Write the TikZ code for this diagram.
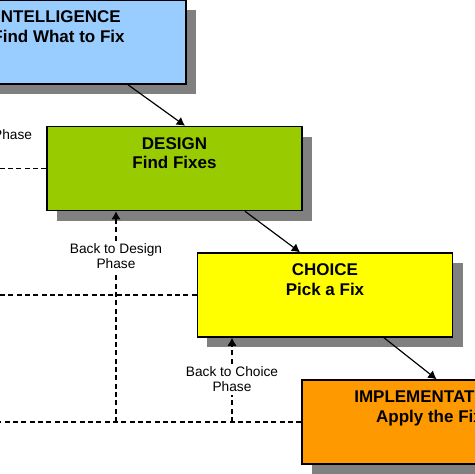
\documentclass[tikz,border=0pt]{standalone}
\usepackage{fontspec}
\setmainfont{Liberation Sans}
\usetikzlibrary{shapes,arrows.meta,shadows}

\definecolor{intelblue}{HTML}{99CCFF}
\definecolor{designgreen}{HTML}{99CC00}
\definecolor{choiceyellow}{HTML}{FFFF00}
\definecolor{implorange}{HTML}{FF9900}

\begin{document}
\begin{tikzpicture}[
    x=0.03cm,
    y=-0.03cm,
    thick
]

% =========================
% Styles
% =========================
\tikzstyle{phase} = [
    rectangle, draw,
    line width=1.3pt,
    minimum width=7.65cm,
    minimum height=2.52cm,
    inner sep=0pt,
    drop shadow={shadow xshift=0.3cm, shadow yshift=-0.3cm,
                 fill=black!50, opacity=1}
]

\tikzstyle{title} = [
    anchor=north,
    align=center,
    inner sep=0pt,
    font=\bfseries\fontsize{14.5}{17}\selectfont
]

\tikzstyle{back} = [
    align=center,
    inner sep=2.5pt,
    font=\fontsize{11.7}{12.8}\selectfont
]

\tikzstyle{line} = [draw, -{Latex[length=7pt,width=8pt]}, line width=1pt]
\tikzstyle{loop} = [draw, dash pattern=on 0.15cm off 0.1cm, line width=1pt]

\useasboundingbox (0,0) rectangle (474,474);

% =========================
% Phases (FIXED POSITIONS)
% =========================
\node[phase, fill=intelblue] (intel) at (58.5,42) {};
\node[title] (intel-text) at ([yshift=-0.33cm]intel.north)
    {INTELLIGENCE\\Find What to Fix};

\node[phase, fill=designgreen] (design) at (174.5,168.5) {};
\node[title] (design-text) at ([yshift=-0.33cm]design.north)
    {DESIGN\\Find Fixes};

\node[phase, fill=choiceyellow] (choice) at (325,295) {};
\node[title] (choice-text) at ([yshift=-0.33cm]choice.north)
    {CHOICE\\Pick a Fix};

\node[phase, fill=implorange] (impl) at (429.5,422) {};
\node[title] (impl-text) at ([yshift=-0.33cm]impl.north)
    {IMPLEMENTATION\\Apply the Fix};

% =========================
% Feedback labels
% =========================
\node[back] (back-intel) at (-24,128.5) {Back to\\Intelligence Phase};
\node[back] (back-design) at (116,256.5) {Back to Design\\Phase};
\node[back] (back-choice) at (232,379.5) {Back to Choice\\Phase};

% =========================
% Forward connections
% =========================
\path[line] ([xshift=2.085cm]intel.south) -- ([xshift=0.315cm]design.north);
\path[line] ([xshift=2.115cm]design.south) -- ([xshift=-0.75cm]choice.north);
\path[line] ([xshift=1.77cm]choice.south) -- ([xshift=0.21cm]impl.north);

% =========================
% Feedback loops
% =========================
\coordinate (intel-foot) at (back-intel.south |- impl.west);
\path[loop] (impl.west) -- (intel-foot) -- (back-intel.south);
\path[loop] (choice.west) -- (choice.west -| intel-foot);
\path[loop] (design.west) -- (design.west -| intel-foot);
\path[loop, -{Latex[length=7pt,width=8pt]}] (back-intel.north) -- (back-intel.north |- intel.south);

\path[loop] (back-design.south |- impl.west) -- (back-design.south);
\path[loop, -{Latex[length=7pt,width=8pt]}] (back-design.north) -- (back-design.north |- design.south);

\path[loop] (back-choice.south |- impl.west) -- (back-choice.south);
\path[loop, -{Latex[length=7pt,width=8pt]}] (back-choice.north) -- (back-choice.north |- choice.south);

\end{tikzpicture}
\end{document}
